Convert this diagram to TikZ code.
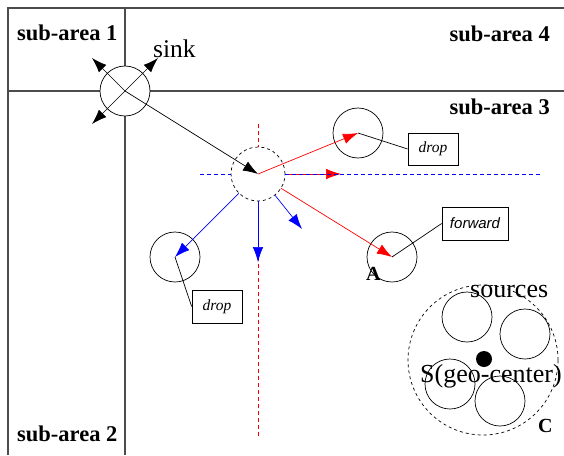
\documentclass[tikz,border=0pt]{standalone}
\usepackage{fontspec}
\setmainfont{Liberation Serif}
\newfontfamily\arialfont{Liberation Sans}
\usetikzlibrary{arrows.meta}
\begin{document}
\begin{tikzpicture}[x=1pt,y=-1pt,
  frame/.style={draw=black!70,line width=1.3pt},
  nodecirc/.style={circle,draw,line width=0.7pt,minimum size=50pt,inner sep=0pt},
  tagbox/.style={draw,line width=0.7pt,inner sep=0pt,font=\fontsize{15.5}{17}\selectfont\itshape},
  area/.style={font=\fontsize{22.5}{26}\selectfont\bfseries,inner sep=0pt},
  plain/.style={font=\fontsize{26}{30}\selectfont,inner sep=0pt},
  tip/.style={-{Latex[length=15pt,width=10.5pt]}},
  thin/.style={line width=0.7pt}]
\useasboundingbox (0,0) rectangle (564,455);
% frame
\coordinate (tl) at (8,8); \coordinate (tr) at (564,8); \coordinate (bl) at (8,455);
\coordinate (vt0) at (125,8); \coordinate (vb0) at (125,455);
\coordinate (hl0) at (8,91); \coordinate (hr0) at (564,91);
\draw[frame] (bl) -- (tl) -- (tr);
\draw[frame] (vt0) -- (vb0);
\draw[frame] (hl0) -- (hr0);
% labels
\node[area,anchor=base west] (sa1) at (17,40) {sub-area 1};
\node[area,anchor=base east] (sa4) at (550,41) {sub-area 4};
\node[area,anchor=base east] (sa3) at (550,114) {sub-area 3};
\node[area,anchor=base west] (sa2) at (17,441) {sub-area 2};
% dashed axes
\coordinate (vt) at (258,124); \coordinate (vb) at (258,438);
\coordinate (hl) at (200,174); \coordinate (hr) at (542,174);
\draw[red,thin,dash pattern=on 4pt off 3pt] (vt) -- (vb);
\draw[blue,thin,dash pattern=on 4pt off 3pt] (hl) -- (hr);
% nodes
\node[nodecirc,fill=white] (sink) at (125,91) {};
\node[plain,anchor=base west,font=\fontsize{25.5}{30}\selectfont] (sinklbl) at (153,57) {sink};
\node[circle,draw,dashed,thin,minimum size=54pt,inner sep=0pt,fill=white] (relay) at (258,174) {};
\node[nodecirc] (nd) at (358,133) {};
\node[nodecirc] (nA) at (392,257) {};
\node[nodecirc] (nL) at (175,257) {};
\node[tagbox,minimum width=50pt,minimum height=32pt] (bd1) at (433,149) {drop};
\node[tagbox,minimum width=50pt,minimum height=33pt] (bd2) at (217,306.5) {drop};
\node[tagbox,minimum width=66pt,minimum height=33pt,font=\fontsize{15}{17}\selectfont\arialfont\itshape] (bfw) at (475,223.5) {forward};
\node[font=\fontsize{20}{24}\selectfont\bfseries,inner sep=0pt,anchor=base west] (lA) at (366,280) {A};
% sink arrows
\coordinate (s1) at (92,58); \coordinate (s2) at (158,58); \coordinate (s3) at (92,124);
\draw[tip,thin] (sink.center) -- (s1);
\draw[tip,thin] (sink.center) -- (s2);
\draw[tip,thin] (sink.center) -- (s3);
\draw[tip,thin] (sink.center) -- (relay.center);
% red arrows
\coordinate (rh) at (341,174);
\draw[tip,thin,red] (relay.center) -- (nd.center);
\draw[tip,thin,red] (relay) -- (rh);
\draw[tip,thin,red] (relay) -- (nA.center);
\draw[blue,thin,dash pattern=on 4pt off 3pt] (relay.east) -- (rh);
% blue arrows
\coordinate (bdn) at (258,262); \coordinate (bdr) at (302,229);
\draw[tip,thin,blue] (relay) -- (nL.center);
\draw[tip,thin,blue] (relay) -- (bdn);
\draw[tip,thin,blue] (relay) -- (bdr);
% box connectors
\draw[thin] (nd.center) -- (bd1.west);
\draw[thin] (nA.center) -- (bfw.west);
\draw[thin] (nL.center) -- (bd2.west);
% sources cluster
\node[circle,draw,dashed,thin,minimum size=150pt,inner sep=0pt] (clu) at (483,360) {};
\node[nodecirc] (c1) at (467,317) {};
\node[nodecirc] (c2) at (525,334) {};
\node[nodecirc] (c3) at (450,384) {};
\node[nodecirc] (c4) at (500,401) {};
\node[circle,fill=black,minimum size=16pt,inner sep=0pt] (geo) at (484,359) {};
\node[plain,anchor=base west] (srcl) at (470,297) {sources};
\node[plain,anchor=base west] (geol) at (420,382) {S(geo-center)};
\node[font=\fontsize{20}{24}\selectfont\bfseries,inner sep=0pt,anchor=base west] (lC) at (538,432) {C};
\end{tikzpicture}
\end{document}
